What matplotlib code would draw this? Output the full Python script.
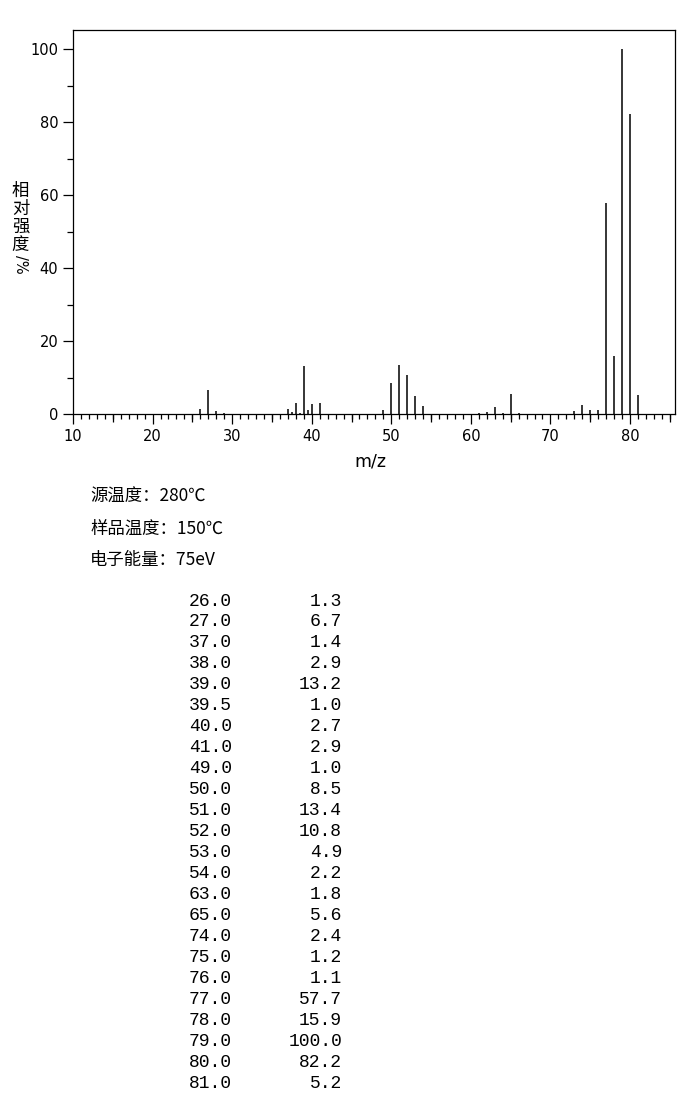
import matplotlib
matplotlib.use("Agg")
import matplotlib.pyplot as plt
from matplotlib.ticker import MultipleLocator, FixedLocator

# ---- data ----
peak_mz = [26, 27, 28, 29, 37, 37.5, 38, 38.5, 39, 39.5, 40, 41,
           49, 50, 51, 52, 53, 54, 61, 62, 63, 64, 65, 66,
           73, 74, 75, 76, 77, 78, 79, 80, 81]
peak_int = [1.3, 6.7, 0.8, 0.3, 1.4, 0.5, 2.9, 0.3, 13.2, 1.0, 2.7, 2.9,
            1.0, 8.5, 13.4, 10.8, 4.9, 2.2, 0.4, 0.6, 1.8, 0.4, 5.6, 0.3,
            0.8, 2.4, 1.2, 1.1, 57.7, 15.9, 100.0, 82.2, 5.2]

table_mz = ["26.0", "27.0", "37.0", "38.0", "39.0", "39.5", "40.0", "41.0",
            "49.0", "50.0", "51.0", "52.0", "53.0", "54.0", "63.0", "65.0",
            "74.0", "75.0", "76.0", "77.0", "78.0", "79.0", "80.0", "81.0"]
table_int = ["1.3", "6.7", "1.4", "2.9", "13.2", "1.0", "2.7", "2.9",
             "1.0", "8.5", "13.4", "10.8", "4.9", "2.2", "1.8", "5.6",
             "2.4", "1.2", "1.1", "57.7", "15.9", "100.0", "82.2", "5.2"]

info_lines = ["源温度：280℃", "样品温度：150℃", "电子能量：75eV"]
ylabel_chars = ["相", "对", "强", "度"]

x_ticks = [10, 20, 30, 40, 50, 60, 70, 80]
y_ticks = [0, 20, 40, 60, 80, 100]

W, H = 696, 1106
fig = plt.figure(figsize=(W / 100, H / 100), dpi=100)
cjk = ['Noto Sans CJK SC', 'DejaVu Sans']

def px(x, y):
    return x / W, 1 - y / H

left, right, top, bottom = 73, 674.5, 30, 414
ax = fig.add_axes([left / W, 1 - bottom / H, (right - left) / W, (bottom - top) / H])
ax.vlines(peak_mz, 0, peak_int, color='black', lw=1.1)

ppu = (630 - 73) / 70.0
ax.set_xlim(10, 10 + (right - left) / ppu)
ax.set_ylim(0, (bottom - top) / ((414 - 49) / 100.0))

for s in ax.spines.values():
    s.set_linewidth(0.9)
    s.set_color('black')

ax.xaxis.set_major_locator(FixedLocator(x_ticks))
ax.xaxis.set_minor_locator(MultipleLocator(1))
ax.yaxis.set_major_locator(FixedLocator(y_ticks))
ax.yaxis.set_minor_locator(MultipleLocator(10))
ax.tick_params(axis='x', which='major', direction='out', length=7.5, width=0.9,
               labelsize=10.5, pad=3)
ax.tick_params(axis='x', which='minor', direction='out', length=3.5, width=0.9)
ax.tick_params(axis='y', which='major', direction='out', length=7.5, width=0.9,
               labelsize=10.5, pad=3)
ax.tick_params(axis='y', which='minor', direction='out', length=4, width=0.9)

sec = ax.secondary_xaxis('bottom')
sec.set_xticks([15, 25, 35, 45, 55, 65, 75, 85])
sec.set_xticklabels([])
sec.tick_params(direction='out', length=5.5, width=0.9)
sec.spines['bottom'].set_visible(False)

fig.text(*px(370, 462), "m/z", fontsize=12.5, ha='center', va='center')

ys = [191, 209, 227, 245]
for ch, yy in zip(ylabel_chars, ys):
    fig.text(*px(20.5, yy), ch, fontsize=12.5, ha='center', va='center', family=cjk)
fig.text(*px(20.5, 264), "/%", fontsize=10.5, ha='center', va='center', rotation=-90)

for i, line in enumerate(info_lines):
    fig.text(*px(90, 497 + i * 31.5), line, fontsize=12.5, ha='left', va='center', family=cjk)

row0, row_step = 601, (1083 - 601) / 23.0
for i, (m, v) in enumerate(zip(table_mz, table_int)):
    yy = row0 + i * row_step
    fig.text(*px(232, yy), m, fontsize=13, ha='right', va='center', family='Liberation Mono')
    fig.text(*px(342, yy), v, fontsize=13, ha='right', va='center', family='Liberation Mono')

fig.savefig("out.png", dpi=100)
